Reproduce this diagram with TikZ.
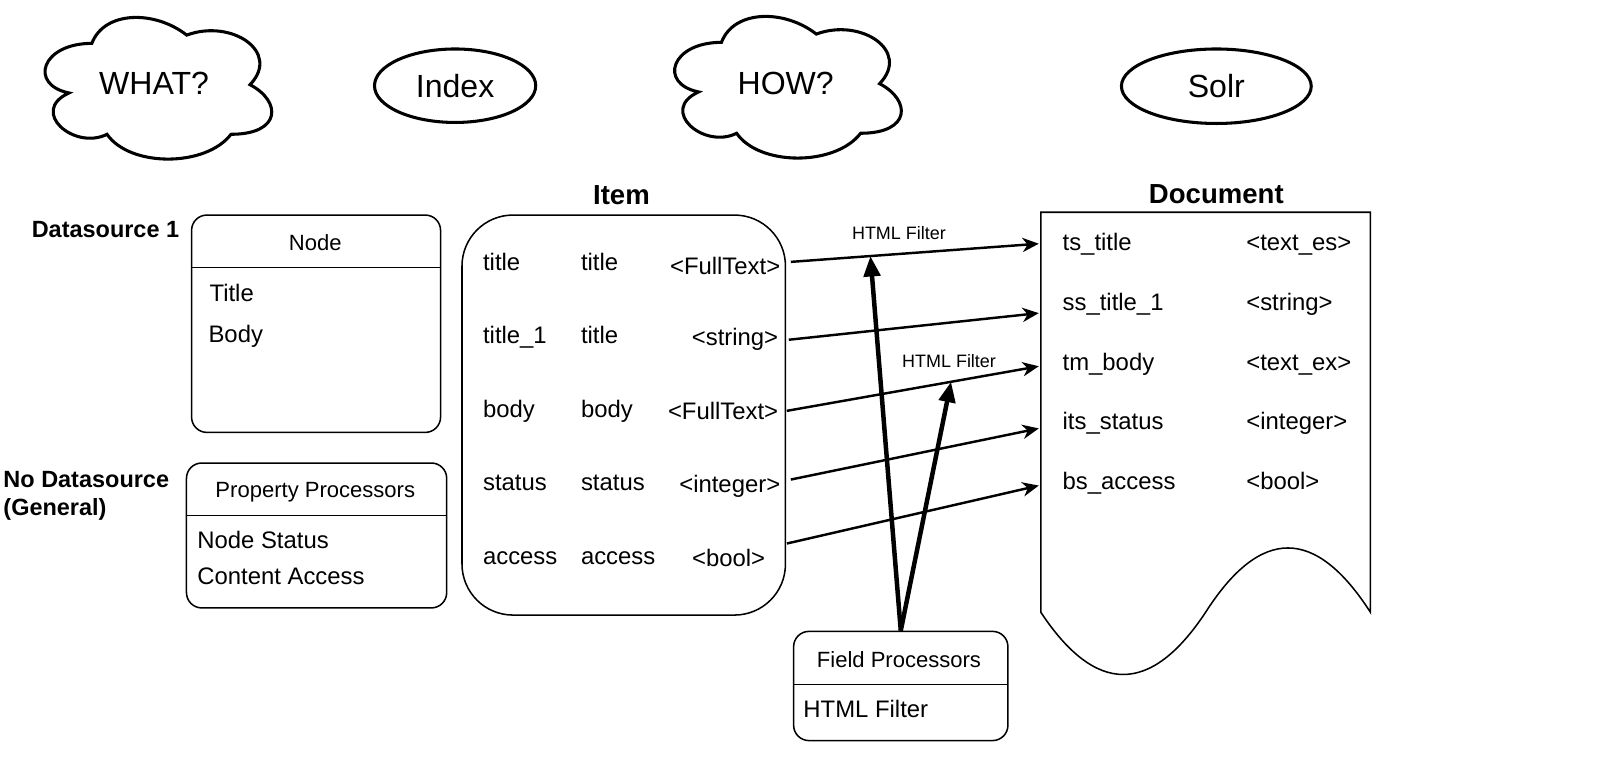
\documentclass[tikz,border=0pt]{standalone}
\usepackage{fontspec}
\setmainfont{Liberation Sans}
\usetikzlibrary{shapes.geometric,arrows.meta,calc,positioning}

\tikzset{
  cloudpic/.pic={
    \draw[line width=1.5pt] (0.25,0.25) .. controls (0.05,0.25) and (0,0.5) .. (0.16,0.55)
      .. controls (0,0.66) and (0.18,0.9) .. (0.31,0.8)
      .. controls (0.4,1) and (0.7,1) .. (0.8,0.8)
      .. controls (1,0.8) and (1,0.6) .. (0.875,0.5)
      .. controls (1,0.3) and (0.8,0.1) .. (0.625,0.2)
      .. controls (0.5,0.05) and (0.3,0.05) .. (0.25,0.25) -- cycle;
  }
}

\begin{document}
\begin{tikzpicture}[x=0.5pt,y=-0.5pt,
    every node/.style={inner sep=0pt},
    body/.style={font=\fontsize{11.7}{14}\selectfont},
    head/.style={font=\fontsize{10.8}{13}\selectfont},
    big/.style={font=\fontsize{15.7}{19}\selectfont},
    side/.style={font=\bfseries\fontsize{11.5}{13.5}\selectfont},
    title/.style={font=\bfseries\fontsize{13.5}{16}\selectfont},
    lbl/.style={font=\fontsize{8.8}{10}\selectfont},
    bubble/.style={ellipse, draw, line width=1.5pt},
    box/.style={draw, line width=0.75pt, rounded corners=7.5pt, anchor=north west},
    link/.style={-{Stealth[length=8pt,width=7pt,inset=2.5pt]}, line width=1.2pt},
    push/.style={-{Triangle[length=10pt,width=8pt]}, line width=2.2pt}]
    \useasboundingbox (0,0) rectangle (1568,761.5);

    % top row
    \pic[xscale=248,yscale=162] at (28,2) {cloudpic};
    \node[big, anchor=base]      (what)  at (151,93)    {WHAT?};
    \node[bubble, big, minimum width=79pt, minimum height=36pt]   (index) at (446,84)   {Index};
    \pic[xscale=248,yscale=162] at (645,1) {cloudpic};
    \node[big, anchor=base]      (how)   at (770,93)    {HOW?};
    \node[bubble, big, minimum width=93pt, minimum height=36.5pt] (solr)  at (1192,84.5) {Solr};

    % datasources
    \node[side, anchor=base east] (ds1)  at (176,233) {Datasource 1};
    \node[side, anchor=base west] (nods) at (3,478)   {No Datasource};
    \node[side, anchor=base west] (gen)  at (3,505)   {(General)};

    \node[box, minimum width=122pt, minimum height=106.5pt] (nodebox) at (187,210) {};
    \draw[line width=0.75pt] (187,262) -- (431,262);
    \node[head, anchor=base]      (nodehd) at (309,245) {Node};
    \node[body, anchor=base west] (ptitle) at (205,295) {Title};
    \node[body, anchor=base west] (pbody)  at (204,336) {Body};

    \node[box, minimum width=127.5pt, minimum height=71pt] (ppbox) at (182,453) {};
    \draw[line width=0.75pt] (182,505) -- (437,505);
    \node[head, anchor=base]      (pphd)   at (309,488) {Property Processors};
    \node[body, anchor=base west] (pstat)  at (193,538) {Node Status};
    \node[body, anchor=base west] (pacc)   at (193,573) {Content Access};

    % item
    \node[title, anchor=base] (itemttl) at (609,200) {Item};
    \node[box, rounded corners=25pt, minimum width=158.5pt, minimum height=196pt] (item) at (452,210) {};
    \node[body, anchor=base west] (a1) at (473,265) {title};
    \node[body, anchor=base west] (a2) at (473,337) {title\_1};
    \node[body, anchor=base west] (a3) at (473,409) {body};
    \node[body, anchor=base west] (a4) at (473,481) {status};
    \node[body, anchor=base west] (a5) at (473,553) {access};
    \node[body, anchor=base west] (b1) at (569,265) {title};
    \node[body, anchor=base west] (b2) at (569,337) {title};
    \node[body, anchor=base west] (b3) at (569,409) {body};
    \node[body, anchor=base west] (b4) at (569,481) {status};
    \node[body, anchor=base west] (b5) at (569,553) {access};
    \node[body, anchor=base east] (t1) at (765,269) {<FullText>};
    \node[body, anchor=base east] (t2) at (763,339) {<string>};
    \node[body, anchor=base east] (t3) at (763,411) {<FullText>};
    \node[body, anchor=base east] (t4) at (765,483) {<integer>};
    \node[body, anchor=base]      (t5) at (714,555) {<bool>};

    % document
    \node[title, anchor=base] (docttl) at (1192,199) {Document};
    \draw[line width=0.75pt] (1020,600) -- (1020,208) -- (1343,208) -- (1343,600)
      .. controls (1289,516) and (1235.2,516) .. (1181.5,600)
      .. controls (1127.7,681.3) and (1073.8,681.3) .. (1020,600) -- cycle;
    \node[body, anchor=base west] (d1) at (1041,245) {ts\_title};
    \node[body, anchor=base west] (d2) at (1041,304) {ss\_title\_1};
    \node[body, anchor=base west] (d3) at (1041,363) {tm\_body};
    \node[body, anchor=base west] (d4) at (1041,421) {its\_status};
    \node[body, anchor=base west] (d5) at (1041,480) {bs\_access};
    \node[body, anchor=base west] (e1) at (1221,245) {<text\_es>};
    \node[body, anchor=base west] (e2) at (1221,304) {<string>};
    \node[body, anchor=base west] (e3) at (1221,363) {<text\_ex>};
    \node[body, anchor=base west] (e4) at (1221,421) {<integer>};
    \node[body, anchor=base west] (e5) at (1221,480) {<bool>};

    % field processors
    \node[box, minimum width=105pt, minimum height=53.5pt] (fp) at (777,618) {};
    \draw[line width=0.75pt] (777,671) -- (987,671);
    \node[head, anchor=base]      (fphd) at (881,654) {Field Processors};
    \node[body, anchor=base west] (fphf) at (787,703) {HTML Filter};

    % mapping
    \draw[link] ($(t1.east)+(10,-4)$) -- node[lbl, pos=.436, anchor=base, yshift=7pt] (hf1) {HTML Filter}
        coordinate[pos=.321] (f1) ($(d1.west)+(-23,0)$);
    \draw[link] ($(t2.east)+(10,0)$) -- ($(d2.west)+(-23,9)$);
    \draw[link] ($(t3.east)+(8,0)$) -- node[lbl, pos=.644, anchor=base, yshift=7pt] (hf2) {HTML Filter}
        coordinate[pos=.652] (f2) ($(d3.west)+(-23,2)$);
    \draw[link] ($(t4.east)+(10,-7)$) -- ($(d4.west)+(-23,5)$);
    \draw[link] ($(t5.east)+(21,-14)$) -- ($(d5.west)+(-23,2)$);

    \draw[push] (fp.north) -- (f1);
    \draw[push] (fp.north) -- (f2);
\end{tikzpicture}
\end{document}
